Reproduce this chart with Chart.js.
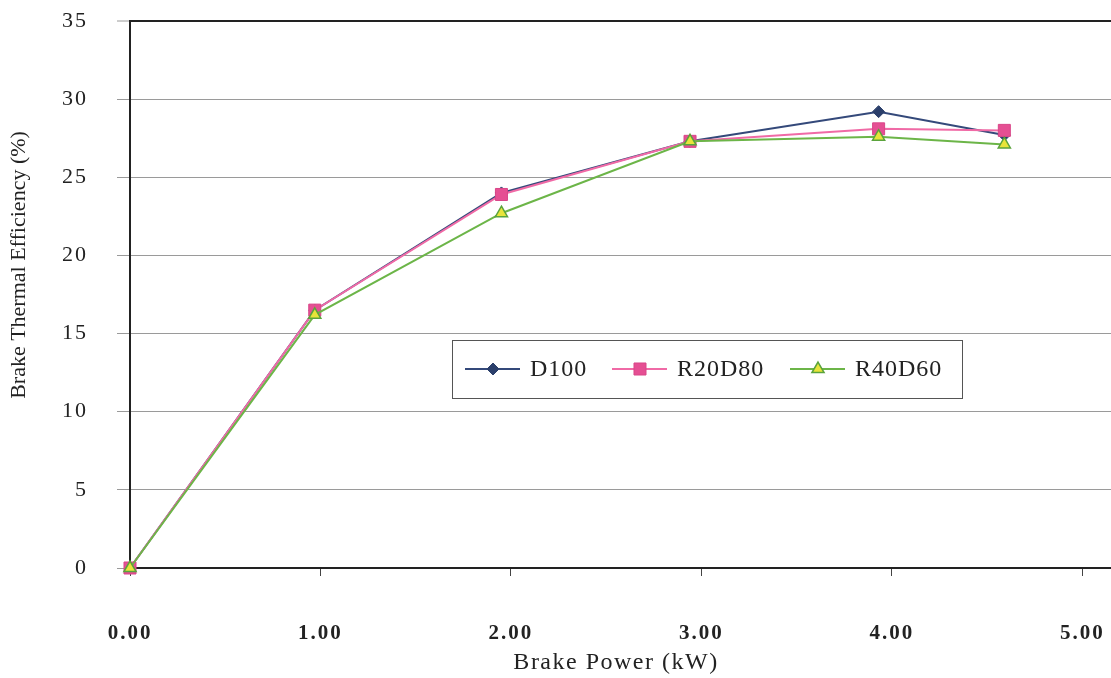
<!DOCTYPE html>
<html>
<head>
<meta charset="utf-8">
<title>Brake Thermal Efficiency</title>
<script src="https://cdn.jsdelivr.net/npm/chart.js@4.4.1/dist/chart.umd.min.js"></script>
<style>
  html, body { margin: 0; padding: 0; background: #fff; }
  #wrap { width: 1111px; height: 678px; position: relative; }
</style>
</head>
<body>
<div id="wrap"><canvas id="bteChart"></canvas></div>
<script>
// values
const brakePower = [0, 0.97, 1.95, 2.94, 3.93, 4.59];
const d100 = [0, 16.5, 24.0, 27.3, 29.2, 27.7];
const r20d80 = [0, 16.5, 23.9, 27.3, 28.1, 28.0];
const r40d60 = [0, 16.2, 22.7, 27.3, 27.6, 27.1];
const seriesNames = ['D100', 'R20D80', 'R40D60'];
const xTickValues = [0, 1, 2, 3, 4, 5];
const yTickValues = [0, 5, 10, 15, 20, 25, 30, 35];

const SERIF = '"Liberation Serif", "DejaVu Serif", serif';

function toPoints(ys) {
    return brakePower.map((x, i) => ({ x: x, y: ys[i] }));
}

// legend marker, same shapes as the chart points
function drawMarker(ctx, style, x, y, r) {
    ctx.beginPath();
    if (style === 'rectRot') {
        ctx.moveTo(x, y - r); ctx.lineTo(x + r, y); ctx.lineTo(x, y + r); ctx.lineTo(x - r, y);
    } else if (style === 'rect') {
        const s = r * Math.SQRT1_2;
        ctx.rect(x - s, y - s, 2 * s, 2 * s);
    } else {
        ctx.moveTo(x, y - r);
        ctx.lineTo(x + r * 0.866, y + r * 0.5);
        ctx.lineTo(x - r * 0.866, y + r * 0.5);
    }
    ctx.closePath();
    ctx.fill();
    ctx.stroke();
}

const textSpacing = {
    id: 'textSpacing',
    beforeDraw(chart) {
        chart.ctx.letterSpacing = '2px';
    }
};

const axisTitles = {
    id: 'axisTitles',
    afterDraw(chart) {
        const ctx = chart.ctx;
        ctx.save();
        ctx.fillStyle = '#222';
        ctx.textAlign = 'center';
        ctx.textBaseline = 'middle';
        ctx.letterSpacing = '1.5px';
        ctx.font = '24px ' + SERIF;
        ctx.fillText('Brake Power (kW)', 616, 663);
        ctx.letterSpacing = '0px';
        ctx.translate(19, 265);
        ctx.rotate(-Math.PI / 2);
        ctx.font = '22px ' + SERIF;
        ctx.fillText('Brake Thermal Efficiency (%)', 0, 0);
        ctx.restore();
    }
};

const legendBox = {
    id: 'legendBox',
    afterDatasetsDraw(chart) {
        const ctx = chart.ctx;
        const slots = [465, 612, 790];
        ctx.save();
        ctx.fillStyle = '#fff';
        ctx.fillRect(452, 340, 510, 58);
        ctx.strokeStyle = '#555';
        ctx.lineWidth = 1;
        ctx.strokeRect(452.5, 340.5, 510, 58);
        chart.data.datasets.forEach((ds, i) => {
            const x0 = slots[i], y = 369;
            ctx.strokeStyle = ds.borderColor;
            ctx.lineWidth = ds.borderWidth;
            ctx.beginPath();
            ctx.moveTo(x0, y);
            ctx.lineTo(x0 + 55, y);
            ctx.stroke();
            ctx.fillStyle = ds.pointBackgroundColor;
            ctx.strokeStyle = ds.pointBorderColor;
            ctx.lineWidth = ds.pointBorderWidth;
            drawMarker(ctx, ds.pointStyle, x0 + 28, y, ds.pointRadius);
            ctx.fillStyle = '#222';
            ctx.font = '24px ' + SERIF;
            ctx.letterSpacing = '1px';
            ctx.textAlign = 'left';
            ctx.textBaseline = 'middle';
            ctx.fillText(ds.label, x0 + 65, y + 1);
        });
        ctx.restore();
    }
};

new Chart(document.getElementById('bteChart'), {
    type: 'line',
    data: {
        datasets: [{
            label: seriesNames[0],
            data: toPoints(d100),
            borderColor: '#34497a',
            borderWidth: 2,
            pointStyle: 'rectRot',
            pointRadius: 6,
            pointBackgroundColor: '#2b3f6b',
            pointBorderColor: '#2b3f6b',
            pointBorderWidth: 1,
            clip: false,
            order: 3
        }, {
            label: seriesNames[1],
            data: toPoints(r20d80),
            borderColor: '#f06aa6',
            borderWidth: 2,
            pointStyle: 'rect',
            pointRadius: 8.5,
            pointBackgroundColor: '#e54f93',
            pointBorderColor: '#d94688',
            pointBorderWidth: 1,
            clip: false,
            order: 2
        }, {
            label: seriesNames[2],
            data: toPoints(r40d60),
            borderColor: '#6cb548',
            borderWidth: 2,
            pointStyle: 'triangle',
            pointRadius: 7,
            pointBackgroundColor: '#e8e43a',
            pointBorderColor: '#5aa33c',
            pointBorderWidth: 1.5,
            clip: false,
            order: 1
        }]
    },
    options: {
        responsive: true,
        maintainAspectRatio: false,
        animation: false,
        devicePixelRatio: 1,
        layout: { autoPadding: false, padding: { top: 21, right: 0, bottom: 0, left: 0 } },
        plugins: {
            legend: { display: false },
            tooltip: { enabled: false }
        },
        elements: { line: { tension: 0, fill: false } },
        scales: {
            x: {
                type: 'linear',
                min: 0,
                max: 5.15,
                afterBuildTicks: scale => {
                    scale.ticks = xTickValues.map(v => ({ value: v }));
                },
                afterFit: scale => {
                    scale.height = 110;
                    scale.paddingLeft = 0;
                    scale.paddingRight = 0;
                },
                ticks: {
                    callback: v => Number(v).toFixed(2),
                    font: { family: SERIF, size: 21, weight: 'bold' },
                    color: '#222',
                    padding: 45,
                    maxRotation: 0
                },
                grid: {
                    drawOnChartArea: false,
                    drawTicks: true,
                    tickLength: 8,
                    tickColor: '#444',
                    tickWidth: 1
                },
                border: { display: true, color: '#222', width: 2 }
            },
            y: {
                min: 0,
                max: 35,
                afterBuildTicks: scale => {
                    scale.ticks = yTickValues.map(v => ({ value: v }));
                },
                afterFit: scale => {
                    scale.width = 130;
                    scale.paddingTop = 0;
                    scale.paddingBottom = 0;
                },
                ticks: {
                    font: { family: SERIF, size: 22 },
                    color: '#222',
                    padding: 29
                },
                grid: {
                    color: c => (c.tick && c.tick.value === 35) ? '#222' : '#9a9a9a',
                    lineWidth: c => (c.tick && c.tick.value === 35) ? 2 : 1,
                    drawTicks: true,
                    tickLength: 13,
                    tickColor: '#9a9a9a',
                    tickWidth: 1
                },
                border: { display: true, color: '#222', width: 2 }
            }
        }
    },
    plugins: [textSpacing, legendBox, axisTitles]
});
</script>
</body>
</html>
